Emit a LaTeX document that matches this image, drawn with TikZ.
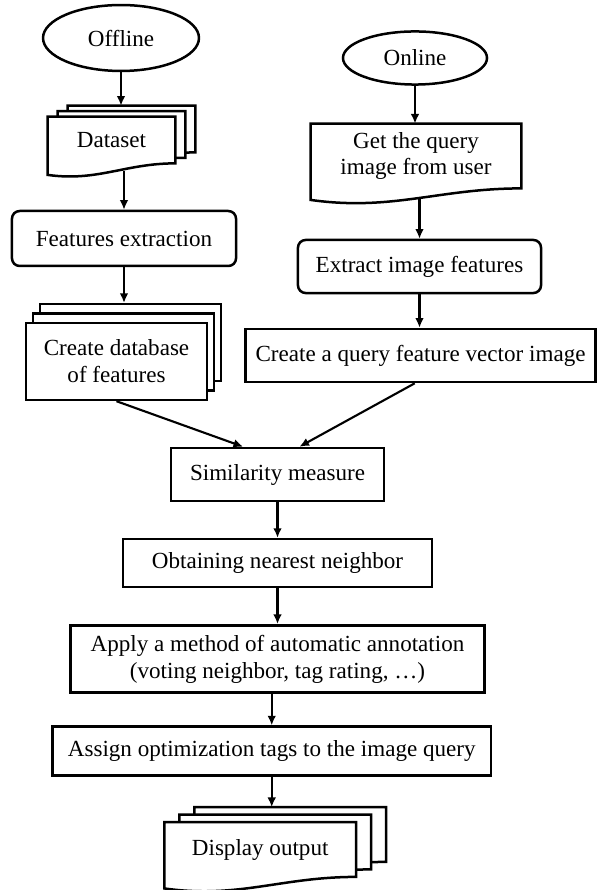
\documentclass[tikz,border=0pt]{standalone}
\usepackage{fontspec}
\setmainfont{Liberation Serif}
\usetikzlibrary{shapes.geometric,arrows.meta,positioning,shadows,backgrounds}

% document symbol: top and sides straight, wavy bottom edge
\newcommand{\docshape}[2]{%
  \draw[docline] ([shift={#2}]#1.north west) -- ([shift={#2}]#1.north east)
    -- ([shift={#2}]#1.south east) to[out=180,in=-8]
    ([shift={#2},yshift=-6pt]#1.south west) -- cycle;}

\begin{document}
\begin{tikzpicture}[
    x=0.52pt, y=0.52pt,
    node distance=18.5pt,
    font=\fontsize{12pt}{14pt}\selectfont,
    terminal/.style={ellipse, draw, line width=1.3pt, inner sep=0pt},
    process/.style={rectangle, draw, line width=1.3pt, fill=white, align=center, inner sep=2pt},
    soft/.style={process, rounded corners=4pt},
    docbox/.style={rectangle, align=center, inner sep=2pt},
    docline/.style={draw, fill=white, line width=1.3pt},
    stack/.style={process, double copy shadow={shadow xshift=3.6pt, shadow yshift=4.9pt}},
    arrow/.style={-{Latex[length=5pt,width=4.5pt]}, line width=1.1pt}
]
    \useasboundingbox (0,0) rectangle (597,-890);

    % Offline branch
    \node[terminal, minimum width=81.1pt, minimum height=34.3pt] (offline) at (121,-38) {Offline};
    \node[docbox, minimum width=66pt, minimum height=23.9pt] (dataset) at (111.5,-140) {Dataset};
    \node[soft, minimum width=116.5pt, minimum height=28.6pt] (features) at (124,-238.5) {Features extraction};
    \node[stack, minimum width=94.1pt, minimum height=40pt] (createdb) at (116.5,-361.5) {Create database\\of features};

    % Online branch
    \node[terminal, minimum width=74.9pt, minimum height=27.6pt] (online) at (415,-58) {Online};
    \node[docbox, minimum width=109.2pt, minimum height=33.3pt] (getq) at (416,-156) {Get the query\\image from user};
    \node[soft, minimum width=126.4pt, minimum height=27.6pt] (extract) at (419.5,-266.5) {Extract image features};
    \node[process, minimum width=182pt, minimum height=27.6pt] (query) at (420.5,-355.5) {Create a query feature vector image};

    % Common part
    \node[process, minimum width=110.8pt, minimum height=27.6pt] (sim) at (277.5,-474.5) {Similarity measure};
    \node[process, minimum width=160.7pt, minimum height=25pt, below=of sim] (obtain) {Obtaining nearest neighbor};
    \node[process, minimum width=215.3pt, minimum height=35pt, below=of obtain] (apply) {Apply a method of automatic annotation\\(voting neighbor, tag rating, \ldots)};
    \node[process, minimum width=227.8pt, minimum height=25.5pt, below=16.4pt of apply, xshift=-3pt] (assign) {Assign optimization tags to the image query};
    \node[docbox, minimum width=99.3pt, minimum height=28.1pt, below=23.5pt of assign, xshift=-6pt] (display) {Display output};

    % Document stacks
    \begin{scope}[on background layer]
        \docshape{dataset}{(10.4pt,5.7pt)}
        \docshape{dataset}{(5.2pt,2.9pt)}
        \docshape{dataset}{(0pt,0pt)}
        \docshape{getq}{(0pt,0pt)}
        \docshape{display}{(15.6pt,7.8pt)}
        \docshape{display}{(7.8pt,3.9pt)}
        \docshape{display}{(0pt,0pt)}
    \end{scope}

    \coordinate (dstop) at ([yshift=5.7pt]dataset.north);
    \coordinate (dsbot) at ([yshift=-4pt]dataset.south);
    \coordinate (dbtop) at ([yshift=9.8pt]createdb.north);
    \coordinate (gqbot) at ([yshift=-5pt]getq.south);
    \coordinate (distop) at ([yshift=7.8pt]display.north);

    % Arrows
    \draw[arrow] (offline.south) -- (offline.south |- dstop);
    \draw[arrow] (dsbot -| features.north) -- (features.north);
    \draw[arrow] (features.south) -- (features.south |- dbtop);
    \draw[arrow] (createdb.south) -- ([xshift=-17.9pt]sim.north);
    \draw[arrow] (online.south) -- (online.south |- getq.north);
    \draw[arrow] (gqbot -| extract.north) -- (extract.north);
    \draw[arrow] (extract.south) -- (extract.south |- query.north);
    \draw[arrow] ([xshift=-3pt]query.south) -- ([xshift=11.4pt]sim.north);
    \draw[arrow] (sim.south) -- (sim.south |- obtain.north);
    \draw[arrow] (obtain.south) -- (obtain.south |- apply.north);
    \draw[arrow] (assign.north |- apply.south) -- (assign.north);
    \draw[arrow] (assign.south) -- (assign.south |- distop);
\end{tikzpicture}
\end{document}
